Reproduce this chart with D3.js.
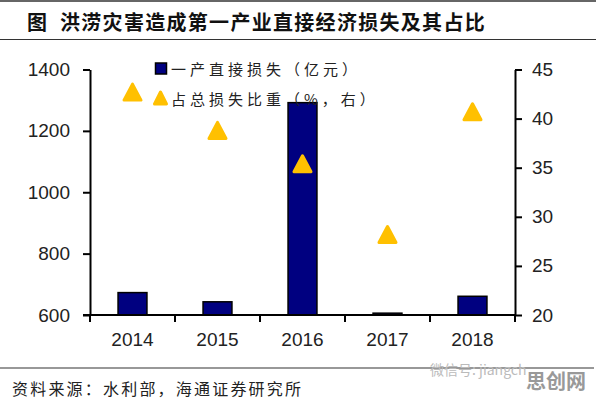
<!DOCTYPE html>
<html><head><meta charset="utf-8">
<script src="https://cdn.jsdelivr.net/npm/d3@7"></script>
<style>
body{margin:0;background:#fff;}
svg{display:block;}
</style></head>
<body>
<svg id="c" width="596" height="400"></svg>
<script>
const years = ["2014","2015","2016","2017","2018"];
const lossValues = [673, 643, 1292, 606, 661];
const shareValues = [42.7, 38.8, 35.4, 28.2, 40.7];
const leftTicks = [600, 800, 1000, 1200, 1400];
const rightTicks = [20, 25, 30, 35, 40, 45];
const titleText = "图  洪涝灾害造成第一产业直接经济损失及其占比";
const legendLabels = ["一产直接损失（亿元）", "占总损失比重（%，右）"];
const sourceText = "资料来源：水利部，海通证券研究所";

const svg = d3.select("#c");
const L = 90, R = 515, T = 69.5, B = 315;
const cjk = "'Noto Sans CJK SC','Noto Sans',sans-serif";
const num = "'Liberation Sans',Arial,sans-serif";

// frame lines
svg.append("line").attr("x1",0).attr("x2",596).attr("y1",1).attr("y2",1).attr("stroke","#333").attr("stroke-width",1.5);
svg.append("line").attr("x1",0).attr("x2",596).attr("y1",39.5).attr("y2",39.5).attr("stroke","#333").attr("stroke-width",1.2);
svg.append("line").attr("x1",0).attr("x2",594).attr("y1",368).attr("y2",368).attr("stroke","#333").attr("stroke-width",1.2);

svg.append("text").attr("x",27).attr("y",21).attr("dominant-baseline","central")
  .attr("font-family",cjk).attr("font-weight","bold").attr("font-size",20)
  .attr("letter-spacing","1.3px").attr("fill","#111").attr("xml:space","preserve")
  .style("white-space","pre").text(titleText);

const x = d3.scaleBand().domain(years).range([L,R]).paddingInner(0.66).paddingOuter(0.33);
const xb = d3.scaleBand().domain(years).range([L,R]).padding(0);
const yL = d3.scaleLinear().domain([600,1400]).range([B,T]);
const yR = d3.scaleLinear().domain([20,45]).range([B,T]);

// bars
svg.append("g").selectAll("rect").data(years).join("rect")
  .attr("x", d=>x(d)).attr("width", x.bandwidth())
  .attr("y", (d,i)=>yL(lossValues[i])).attr("height",(d,i)=>yL(600)-yL(lossValues[i]))
  .attr("fill","#000080").attr("stroke","#000").attr("stroke-width",1.5);

// axes
const gl = svg.append("g").attr("transform",`translate(${L},0)`)
  .call(d3.axisLeft(yL).tickValues(leftTicks).tickFormat(d3.format("d")).tickSize(7).tickPadding(13).tickSizeOuter(0));
const gr = svg.append("g").attr("transform",`translate(${R},0)`)
  .call(d3.axisRight(yR).tickValues(rightTicks).tickFormat(d3.format("d")).tickSize(7).tickPadding(10).tickSizeOuter(0));
const gx = svg.append("g").attr("transform",`translate(0,${B})`)
  .call(d3.axisBottom(x).tickSize(0).tickPadding(18).tickSizeOuter(0));
[gl,gr,gx].forEach(g=>{
  g.selectAll("path.domain").attr("stroke","#000").attr("stroke-width",2);
  g.selectAll(".tick line").attr("stroke","#000").attr("stroke-width",2);
  g.selectAll("text").attr("font-family",num).attr("font-size",19).attr("fill","#222");
});
gx.select("path.domain").attr("d",`M${L-7},0H${R}`);
// category boundary ticks
const bounds = years.map(d=>xb(d)).concat([R]);
svg.append("g").selectAll("line").data(bounds).join("line")
  .attr("x1",d=>d).attr("x2",d=>d).attr("y1",B).attr("y2",B+7)
  .attr("stroke","#000").attr("stroke-width",2);

// triangles
function tri(cx, cy, w, h){
  return `M${cx},${cy-h/2}L${cx+w/2},${cy+h/2}L${cx-w/2},${cy+h/2}Z`;
}
svg.append("g").selectAll("path").data(years).join("path")
  .attr("d",(d,i)=>tri(x(d)+x.bandwidth()/2, yR(shareValues[i]), 17, 16))
  .attr("fill","#FFC000").attr("stroke","#FFC000").attr("stroke-width",3).attr("stroke-linejoin","round");

// legend
const lg = svg.append("g");
lg.append("rect").attr("x",155.5).attr("y",63).attr("width",11).attr("height",11)
  .attr("fill","#000080").attr("stroke","#000").attr("stroke-width",1.5);
lg.append("path").attr("d",tri(160.5,98,12,12)).attr("fill","#FFC000").attr("stroke","#FFC000")
  .attr("stroke-width",3).attr("stroke-linejoin","round");
legendLabels.forEach((t,i)=>{
  lg.append("text").attr("x",171).attr("y",[68.5,98][i]).attr("dominant-baseline","central")
    .attr("font-family",cjk).attr("font-size",15).attr("letter-spacing","4px").attr("fill","#222").text(t);
});

// source
svg.append("text").attr("x",12).attr("y",388).attr("dominant-baseline","central")
  .attr("font-family",cjk).attr("font-size",16).attr("letter-spacing","2.2px").attr("fill","#222").text(sourceText);

// watermark
svg.append("text").attr("x",430).attr("y",369).attr("dominant-baseline","central")
  .attr("font-family",cjk).attr("font-size",14).attr("fill","#bbb").text("微信号: jiangch");
svg.append("text").attr("x",526).attr("y",380).attr("dominant-baseline","central")
  .attr("font-family",cjk).attr("font-weight","bold").attr("font-size",20).attr("fill","#999").text("思创网");
</script>
</body></html>
